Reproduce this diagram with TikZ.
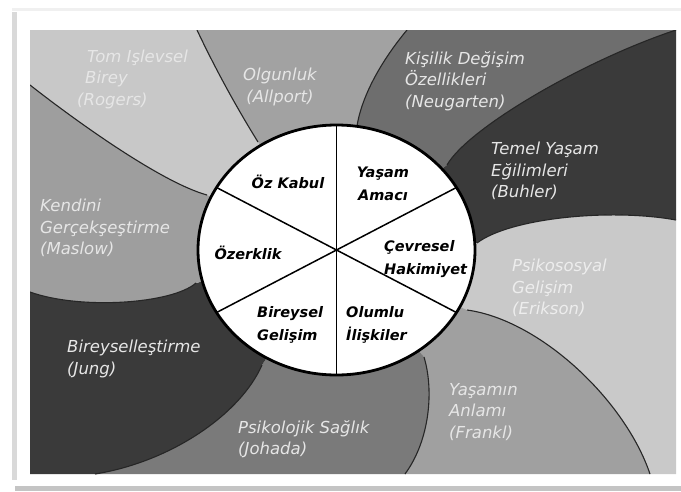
\documentclass[tikz,border=0pt]{standalone}
\usepackage{fontspec}
\setmainfont{DejaVu Sans}
\definecolor{cRog}{HTML}{C8C8C8}
\definecolor{cOlg}{HTML}{A2A2A2}
\definecolor{cNeu}{HTML}{6E6E6E}
\definecolor{cBuh}{HTML}{3A3A3A}
\definecolor{cEri}{HTML}{C9C9C9}
\definecolor{cFra}{HTML}{A0A0A0}
\definecolor{cJoh}{HTML}{7A7A7A}
\definecolor{cJun}{HTML}{3A3A3A}
\definecolor{cMas}{HTML}{9E9E9E}
\definecolor{edgec}{HTML}{262626}
\definecolor{labc}{HTML}{E6E6E6}
\definecolor{frameL}{HTML}{D9D9D9}
\definecolor{frameB}{HTML}{C4C4C4}
\definecolor{frameT}{HTML}{F0F0F0}
\tikzset{
  bound/.style={draw=edgec, line width=1.1pt},
  outerlab/.style={text=labc, font=\fontsize{16.5}{21.5}\selectfont\itshape, align=left, anchor=west, inner sep=0pt},
  innerlab/.style={text=black, font=\fontsize{14.5}{22.5}\selectfont\bfseries\itshape, inner sep=0pt},
  spoke/.style={draw=black, line width=1.5pt}
}
\begin{document}
\begin{tikzpicture}[x=1pt,y=-1pt]
\useasboundingbox (0,0) rectangle (681,491);
\fill[white] (0,0) rectangle (681,491);
% frame shadow
\fill[frameT] (12,8) rectangle (681,11);
\fill[frameL] (12,12) rectangle (17,480);
\fill[frameB] (15,486) rectangle (681,491);
\coordinate (C) at (336.5,250);
% boundary end points (circle side = a, panel side = b)
\coordinate (a1) at (258,142); \coordinate (b1) at (197,30);
\coordinate (a2) at (357,126); \coordinate (b2) at (407,30);
\coordinate (a3) at (447,165); \coordinate (b3) at (676,30);
\coordinate (a4) at (477,243); \coordinate (b4) at (676,220);
\coordinate (a5) at (467,310); \coordinate (b5) at (650,474);
\coordinate (a6) at (424,357); \coordinate (b6) at (405,474);
\coordinate (a7) at (262,365); \coordinate (b7) at (95,474);
\coordinate (a8) at (196,283); \coordinate (b8) at (30,292);
\coordinate (a9) at (207,195); \coordinate (b9) at (30,85);
\begin{scope}
\clip (30,30) rectangle (676,474);
% regions
\fill[cRog] (C) -- (a9) .. controls (160,182) and (72,118) .. (b9) -- (30,30) -- (b1)
   .. controls (214,66) and (235,105) .. (a1) -- cycle;
\fill[cOlg] (C) -- (a1) .. controls (235,105) and (214,66) .. (b1) -- (b2)
   .. controls (382,60) and (362,95) .. (a2) -- cycle;
\fill[cNeu] (C) -- (a2) .. controls (362,95) and (382,60) .. (b2) -- (b3)
   .. controls (585,60) and (468,128) .. (a3) -- cycle;
\fill[cBuh] (C) -- (a3) .. controls (468,128) and (585,60) .. (b3) -- (b4)
   .. controls (610,208) and (510,218) .. (a4) -- cycle;
\fill[cEri] (C) -- (a4) .. controls (510,218) and (610,208) .. (b4) -- (676,474) -- (b5)
   .. controls (625,400) and (540,320) .. (a5) -- cycle;
\fill[cFra] (C) -- (a5) .. controls (540,320) and (625,400) .. (b5) -- (b6)
   .. controls (430,440) and (434,390) .. (a6) -- cycle;
\fill[cJoh] (C) -- (a6) .. controls (434,390) and (430,440) .. (b6) -- (b7)
   .. controls (170,462) and (240,415) .. (a7) -- cycle;
\fill[cJun] (C) -- (a7) .. controls (240,415) and (170,462) .. (b7) -- (30,474) -- (b8)
   .. controls (80,310) and (172,304) .. (a8) -- cycle;
\fill[cMas] (C) -- (a8) .. controls (172,304) and (80,310) .. (b8) -- (b9)
   .. controls (72,118) and (160,182) .. (a9) -- cycle;
% boundaries
\draw[bound] (a1) .. controls (235,105) and (214,66) .. (b1);
\draw[bound] (a2) .. controls (362,95) and (382,60) .. (b2);
\draw[bound] (a3) .. controls (468,128) and (585,60) .. (b3);
\draw[bound] (a4) .. controls (510,218) and (610,208) .. (b4);
\draw[bound] (a5) .. controls (540,320) and (625,400) .. (b5);
\draw[bound] (a6) .. controls (434,390) and (430,440) .. (b6);
\draw[bound] (a7) .. controls (240,415) and (170,462) .. (b7);
\draw[bound] (a8) .. controls (172,304) and (80,310) .. (b8);
\draw[bound] (a9) .. controls (160,182) and (72,118) .. (b9);
\end{scope}
% central wheel
\draw[line width=2.8pt, fill=white] (C) ellipse [x radius=138.5pt, y radius=125pt];
\foreach \a in {30,90,150,210,270,330}
  \draw[spoke] (C) -- ++(\a:138.5pt and 125pt);
% outer labels
\node[outerlab] (rogers) at (77,79) {\hspace*{10pt}Tom Işlevsel\\\hspace*{8pt}Birey\\(Rogers)};
\node[outerlab, align=center, anchor=center] (allport) at (280,87) {Olgunluk\\(Allport)};
\node[outerlab] (neugarten) at (405,81) {Kişilik Değişim\\Özellikleri\\(Neugarten)};
\node[outerlab] (buhler) at (491,171) {Temel Yaşam\\Eğilimleri\\(Buhler)};
\node[outerlab, text=white!93!black] (erikson) at (512,288) {Psikososyal\\Gelişim\\(Erikson)};
\node[outerlab] (frankl) at (449,412) {Yaşamın\\Anlamı\\(Frankl)};
\node[outerlab] (johada) at (238,439) {Psikolojik Sağlık\\(Johada)};
\node[outerlab] (jung) at (67,359) {Bireyselleştirme\\(Jung)};
\node[outerlab] (maslow) at (40,228) {Kendini\\Gerçekşeştirme\\(Maslow)};
% inner labels
\node[innerlab] (ozkabul) at (288,182) {Öz Kabul};
\node[innerlab, align=center] (yasam) at (383,184) {Yaşam\\Amacı};
\node[innerlab] (ozerklik) at (248,253) {Özerklik};
\node[innerlab, align=left, anchor=west] (cevresel) at (384,259) {Çevresel\\Hakimiyet};
\node[innerlab, align=left, anchor=west] (bireysel) at (257,325) {Bireysel\\Gelişim};
\node[innerlab, align=left, anchor=west] (olumlu) at (346,325) {Olumlu\\İlişkiler};
\end{tikzpicture}
\end{document}
